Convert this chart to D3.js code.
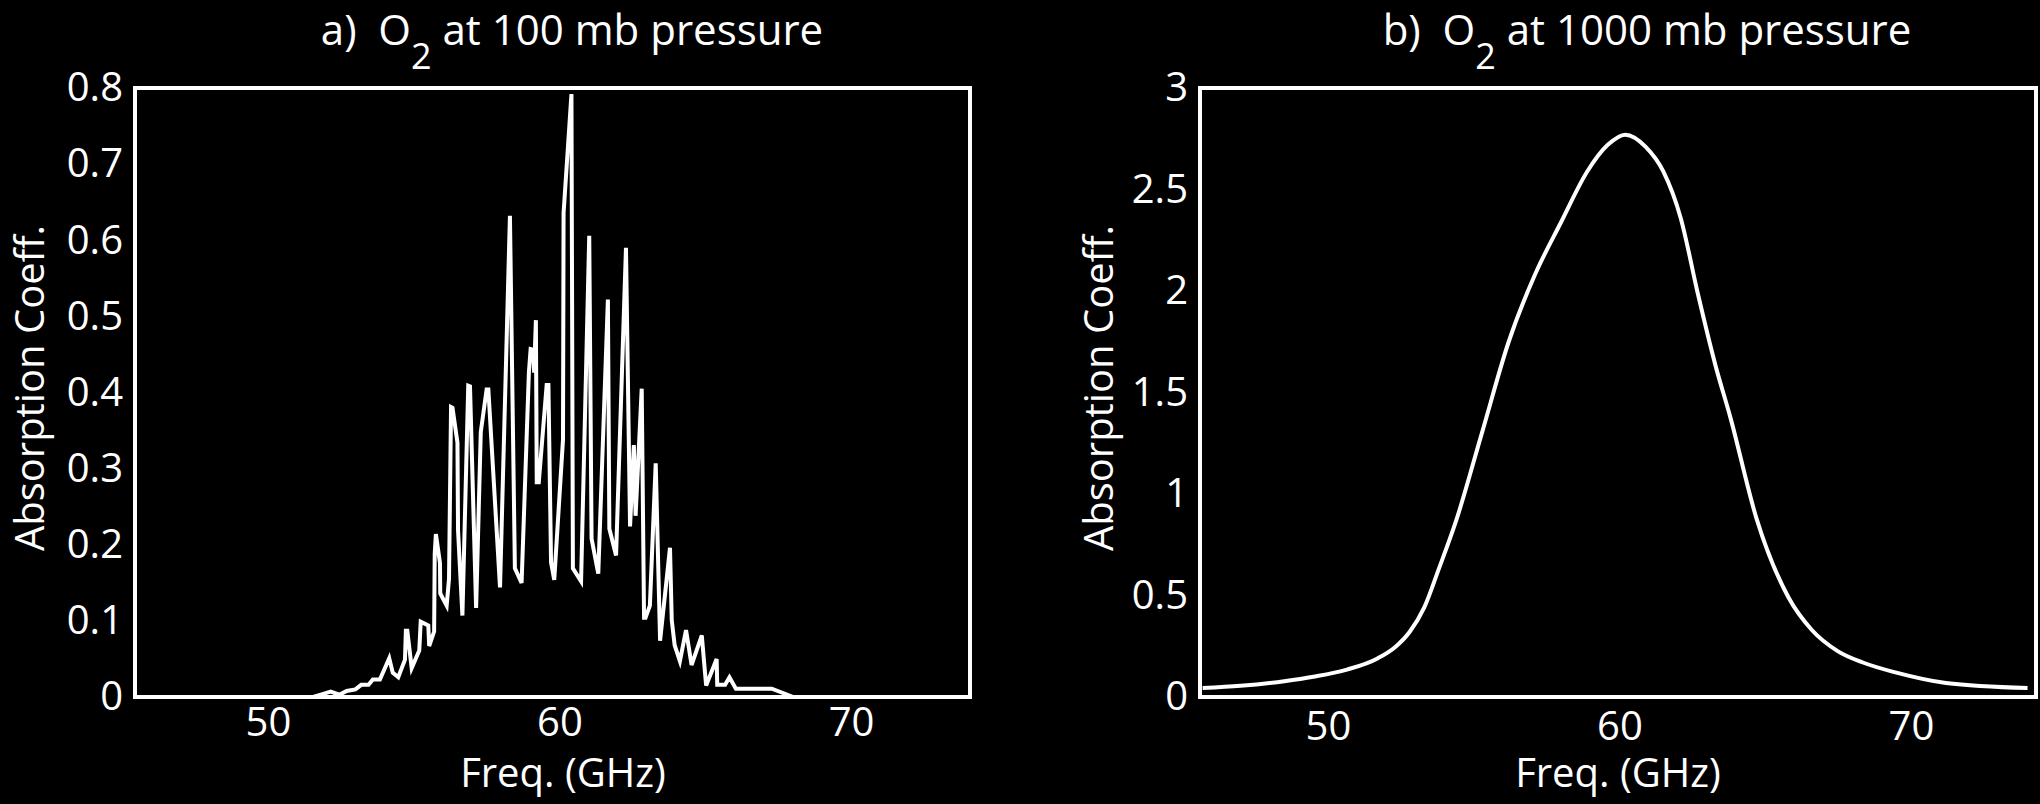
<!DOCTYPE html>
<html><head><meta charset="utf-8">
<script src="https://cdn.jsdelivr.net/npm/d3@7"></script>
<style>
html,body{margin:0;padding:0;background:#000;}
svg{display:block;background:#000;}
text{font-family:"Open Sans",sans-serif;fill:#fff;white-space:pre;}
</style>
</head><body>
<svg id="chart" width="2040" height="804"></svg>
<script>
// ---- data ----
const freqA = [51.55,51.9,52.15,52.45,52.7,53.0,53.2,53.45,53.6,53.84,54.16,54.28,54.47,54.70,54.73,54.78,54.93,55.19,55.24,55.50,55.53,55.70,55.72,55.76,55.90,55.91,56.13,56.21,56.28,56.33,56.50,56.52,56.67,56.87,56.93,57.14,57.30,57.50,57.56,57.96,58.30,58.47,58.70,58.95,59.01,59.10,59.13,59.19,59.22,59.29,59.56,59.62,59.71,59.82,60.12,60.14,60.41,60.46,60.74,61.02,61.10,61.33,61.66,61.71,61.94,62.28,62.42,62.55,62.61,62.82,62.90,62.95,63.10,63.30,63.45,63.79,63.85,63.95,64.13,64.34,64.53,64.88,65.03,65.39,65.41,65.68,65.83,66.05,67.28,68.02];
const absA  = [0.000,0.004,0.007,0.003,0.008,0.010,0.016,0.016,0.023,0.023,0.051,0.032,0.026,0.049,0.087,0.087,0.038,0.061,0.099,0.094,0.067,0.086,0.188,0.214,0.176,0.136,0.120,0.155,0.381,0.380,0.334,0.219,0.107,0.409,0.408,0.117,0.348,0.404,0.404,0.144,0.632,0.169,0.150,0.426,0.457,0.456,0.426,0.495,0.282,0.282,0.410,0.410,0.177,0.154,0.338,0.636,0.792,0.169,0.152,0.606,0.208,0.162,0.522,0.221,0.186,0.590,0.224,0.331,0.238,0.405,0.104,0.104,0.120,0.307,0.074,0.196,0.101,0.068,0.047,0.088,0.042,0.081,0.015,0.050,0.016,0.016,0.026,0.011,0.011,0.000];

const freqB = [45.7,47.0,48.5,49.5,50.65,51.7,52.3,52.8,53.3,53.8,54.4,55.3,56.2,57.1,58.0,58.9,59.6,60.2,60.9,61.5,62.1,62.7,63.3,63.8,64.7,65.8,66.6,67.5,68.35,69.5,71.2,74.0];
const absB  = [0.044,0.055,0.078,0.100,0.135,0.190,0.245,0.320,0.440,0.630,0.87,1.31,1.75,2.08,2.34,2.59,2.72,2.77,2.71,2.59,2.36,1.98,1.63,1.38,0.88,0.49,0.330,0.225,0.170,0.120,0.069,0.044];

const xTickLabels = [50, 60, 70];
const yTicksA = [0, 0.1, 0.2, 0.3, 0.4, 0.5, 0.6, 0.7, 0.8];
const yTicksB = [0, 0.5, 1, 1.5, 2, 2.5, 3];
const titlePrefix = ["a)  O", "b)  O"];
const titleSuffix = [" at 100 mb pressure", " at 1000 mb pressure"];
const xTitle = "Freq. (GHz)";
const yTitle = "Absorption Coeff.";

// ---- layout ----
const svg = d3.select("#chart");
const panels = [
  {fx: freqA, fy: absA, xdom: [45.44, 74.08], ydom: [0, 0.8], yticks: yTicksA,
   left: 135, right: 970, top: 88, bottom: 697, curve: d3.curveLinear,
   titleX: 572, ylabX: 44, xlabX: 563, xPad: 11, lw: 4},
  {fx: freqB, fy: absB, xdom: [45.61, 74.29], ydom: [0, 3], yticks: yTicksB,
   left: 1200, right: 2036, top: 88, bottom: 697, curve: d3.curveMonotoneX,
   titleX: 1647, ylabX: 1113, xlabX: 1618, xPad: 15, lw: 4}
];

panels.forEach((p, i) => {
  const x = d3.scaleLinear().domain(p.xdom).range([p.left, p.right]);
  const y = d3.scaleLinear().domain(p.ydom).range([p.bottom, p.top]);
  const g = svg.append("g");

  // data line
  const pts = p.fx.map((f, k) => [f, p.fy[k]]);
  g.append("path")
    .datum(pts)
    .attr("fill", "none")
    .attr("stroke", "#fff")
    .attr("stroke-width", p.lw)
    .attr("stroke-linejoin", "miter")
    .attr("stroke-miterlimit", 4)
    .attr("d", d3.line().x(d => x(d[0])).y(d => y(d[1])).curve(p.curve));

  // frame
  g.append("rect")
    .attr("x", x.range()[0]).attr("y", y.range()[1])
    .attr("width", x.range()[1] - x.range()[0])
    .attr("height", y.range()[0] - y.range()[1])
    .attr("fill", "none").attr("stroke", "#fff").attr("stroke-width", 4);

  // x axis
  const xa = g.append("g").attr("transform", `translate(0,${p.bottom})`)
    .call(d3.axisBottom(x).tickValues(xTickLabels).tickSize(0).tickPadding(p.xPad).tickFormat(d3.format("d")));
  xa.select(".domain").remove();
  xa.selectAll("text").attr("font-size", 40).attr("fill", "#fff")
    .attr("font-family", '"Open Sans",sans-serif');

  // y axis
  const ya = g.append("g").attr("transform", `translate(${p.left},0)`)
    .call(d3.axisLeft(y).tickValues(p.yticks).tickSize(0).tickPadding(12).tickFormat(d3.format("~g")));
  ya.select(".domain").remove();
  ya.selectAll("text").attr("font-size", 40).attr("fill", "#fff")
    .attr("font-family", '"Open Sans",sans-serif');

  // axis titles
  g.append("text")
    .attr("x", p.xlabX).attr("y", 787)
    .attr("text-anchor", "middle").attr("font-size", 40)
    .text(xTitle);
  g.append("text")
    .attr("transform", `translate(${p.ylabX},388) rotate(-90)`)
    .attr("text-anchor", "middle").attr("font-size", 40)
    .text(yTitle);

  // panel title with subscript 2
  const t = g.append("text")
    .attr("x", p.titleX).attr("y", 45)
    .attr("text-anchor", "middle").attr("font-size", 42);
  t.append("tspan").text(titlePrefix[i]);
  t.append("tspan").attr("dy", 24).attr("font-size", 36).text("2");
  t.append("tspan").attr("dy", -24).text(titleSuffix[i]);
});
</script>
</body></html>
